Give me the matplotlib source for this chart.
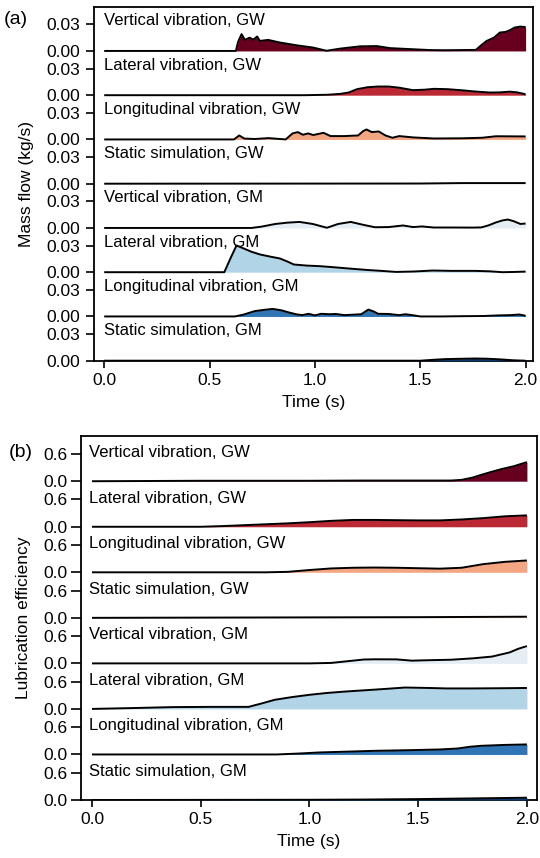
import matplotlib
matplotlib.use("Agg")
import matplotlib.pyplot as plt
import numpy as np

plt.rcParams["font.family"] = ["Liberation Sans", "DejaVu Sans"]
plt.rcParams["font.size"] = 12

# ---------------- data ----------------
row_names = [
    "Vertical vibration, GW", "Lateral vibration, GW", "Longitudinal vibration, GW",
    "Static simulation, GW", "Vertical vibration, GM", "Lateral vibration, GM",
    "Longitudinal vibration, GM", "Static simulation, GM",
]
row_colors = ["#67001f", "#bb2a34", "#f4a582", "#fbe0d0",
              "#e5eef4", "#b2d4e7", "#2f74b3", "#0c3a6e"]

# (a) mass flow, kg/s
mf_t_vert_gw = [0, 0.625, 0.635, 0.652, 0.668, 0.69, 0.707, 0.726, 0.739, 0.778, 0.834, 0.913,
                0.992, 1.055, 1.119, 1.214, 1.293, 1.356, 1.467, 1.546, 1.61, 1.70, 1.764, 1.79,
                1.815, 1.85, 1.878, 1.905, 1.925, 1.949, 1.975, 2.0]
mf_vert_gw = [0, 0, 0.010, 0.019, 0.0125, 0.015, 0.0128, 0.0163, 0.0113, 0.0125, 0.0095, 0.0064,
              0.0038, 0.0002, 0.0026, 0.0052, 0.0055, 0.0032, 0.0019, 0.001, 0.0008, 0.001, 0.0012,
              0.0065, 0.0113, 0.015, 0.0208, 0.0215, 0.0234, 0.0265, 0.0275, 0.027]
mf_t_lat_gw = [0, 0.95, 1.06, 1.12, 1.16, 1.2, 1.25, 1.3, 1.35, 1.4, 1.465, 1.52, 1.565, 1.63,
               1.7, 1.76, 1.83, 1.88, 1.925, 1.96, 2.0]
mf_lat_gw = [0, 0, 0.0005, 0.0015, 0.003, 0.0068, 0.009, 0.0098, 0.0098, 0.0085, 0.0057, 0.0062,
             0.0072, 0.0068, 0.0055, 0.0042, 0.003, 0.0032, 0.004, 0.0032, 0.001]
mf_t_lon_gw = [0, 0.616, 0.641, 0.665, 0.714, 0.78, 0.861, 0.894, 0.919, 0.943, 0.968, 0.992,
               1.041, 1.074, 1.14, 1.205, 1.229, 1.245, 1.27, 1.303, 1.335, 1.368, 1.40, 1.466,
               1.564, 1.70, 1.793, 1.859, 1.93, 2.0]
mf_lon_gw = [0, 0, 0.0045, 0.001, 0.0005, 0.0015, 0, 0.0068, 0.0083, 0.0053, 0.0068, 0.005,
             0.0075, 0.0038, 0.0038, 0.0045, 0.0094, 0.0113, 0.0083, 0.009, 0.0045, 0.0019,
             0.0038, 0.0023, 0.0011, 0.0013, 0.0019, 0.0036, 0.0035, 0.0034]
mf_t_sta_gw = [0, 1.5, 1.7, 2.0]
mf_sta_gw = [0, 0.0002, 0.0007, 0.0007]
mf_t_vert_gm = [0, 0.70, 0.747, 0.812, 0.87, 0.927, 0.99, 1.057, 1.11, 1.17, 1.23, 1.285, 1.35,
                1.418, 1.466, 1.508, 1.564, 1.65, 1.75, 1.79, 1.825, 1.859, 1.89, 1.916, 1.945,
                1.975, 2.0]
mf_vert_gm = [0, 0, 0.0015, 0.0045, 0.006, 0.0068, 0.0045, 0.0002, 0.0045, 0.0068, 0.0035,
              0.0008, 0.001, 0.0028, 0.001, 0.0017, 0.0005, 0.0005, 0.0004, 0.0006, 0.003,
              0.0062, 0.0085, 0.0095, 0.0075, 0.0045, 0.005]
mf_t_lat_gm = [0, 0.57, 0.60, 0.628, 0.66, 0.70, 0.74, 0.79, 0.834, 0.87, 0.90, 0.96, 1.024,
               1.08, 1.18, 1.25, 1.31, 1.385, 1.47, 1.56, 1.65, 1.76, 1.83, 1.89, 1.95, 2.0]
mf_lat_gm = [0, 0, 0.016, 0.0302, 0.027, 0.023, 0.020, 0.0175, 0.0155, 0.012, 0.0087, 0.0075,
             0.0068, 0.0058, 0.0038, 0.0025, 0.0016, 0.0003, 0.0008, 0.0019, 0.0015, 0.0015,
             0.001, 0.0, 0.0003, 0.0007]
mf_t_lon_gm = [0, 0.62, 0.66, 0.714, 0.76, 0.80, 0.84, 0.877, 0.91, 0.94, 0.97, 1.0, 1.03,
               1.07, 1.10, 1.14, 1.18, 1.22, 1.254, 1.28, 1.30, 1.35, 1.40, 1.43, 1.47, 1.5,
               1.6, 1.7, 1.8, 1.87, 1.93, 1.97, 2.0]
mf_lon_gm = [0, 0, 0.002, 0.006, 0.0075, 0.0085, 0.007, 0.0045, 0.0025, 0.0015, 0.003, 0.0012,
             0.003, 0.0025, 0.0028, 0.0015, 0.002, 0.0025, 0.0078, 0.0055, 0.003, 0.0028,
             0.0015, 0.0025, 0.0012, 0.0, 0.0, 0.0003, 0.0005, 0.0012, 0.0015, 0.0022, 0.0008]
mf_t_sta_gm = [0, 1.50, 1.56, 1.62, 1.70, 1.76, 1.82, 1.88, 1.94, 2.0]
mf_sta_gm = [0, 0, 0.001, 0.0018, 0.0022, 0.0025, 0.0022, 0.0015, 0.0005, 0.0]

# (b) lubrication efficiency
le_t_vert_gw = [0, 0.25, 0.5, 0.75, 1.0, 1.25, 1.5, 1.65, 1.70, 1.75, 1.79, 1.84, 1.886, 1.94, 2.0]
le_vert_gw = [0, 0.005, 0.01, 0.01, 0.01, 0.015, 0.015, 0.015, 0.03, 0.08, 0.14, 0.21, 0.27, 0.33, 0.42]
le_t_lat_gw = [0, 0.5, 0.6, 0.7, 0.8, 0.9, 1.0, 1.1, 1.2, 1.3, 1.4, 1.5, 1.6, 1.7, 1.8, 1.9, 2.0]
le_lat_gw = [0, 0, 0.015, 0.035, 0.055, 0.075, 0.10, 0.13, 0.15, 0.15, 0.145, 0.14, 0.14, 0.16,
             0.19, 0.23, 0.25]
le_t_lon_gw = [0, 0.8, 0.9, 1.0, 1.1, 1.2, 1.3, 1.4, 1.5, 1.6, 1.7, 1.8, 1.9, 2.0]
le_lon_gw = [0, 0, 0.01, 0.05, 0.085, 0.10, 0.105, 0.10, 0.09, 0.08, 0.10, 0.18, 0.23, 0.26]
le_t_sta_gw = [0, 0.5, 1.0, 1.5, 2.0]
le_sta_gw = [0, 0.005, 0.01, 0.015, 0.025]
le_t_vert_gm = [0, 1.0, 1.1, 1.2, 1.25, 1.3, 1.4, 1.47, 1.55, 1.65, 1.75, 1.84, 1.92, 1.96, 2.0]
le_vert_gm = [0, 0, 0.01, 0.06, 0.085, 0.09, 0.088, 0.06, 0.07, 0.08, 0.11, 0.15, 0.24, 0.32, 0.38]
le_t_lat_gm = [0, 0.2, 0.37, 0.55, 0.72, 0.78, 0.84, 0.92, 1.0, 1.08, 1.16, 1.24, 1.32, 1.44,
               1.55, 1.63, 1.75, 1.9, 2.0]
le_lat_gm = [0, 0.02, 0.04, 0.045, 0.045, 0.12, 0.20, 0.26, 0.31, 0.35, 0.38, 0.405, 0.43, 0.47,
             0.46, 0.45, 0.45, 0.455, 0.46]
le_t_lon_gm = [0, 0.85, 0.95, 1.05, 1.16, 1.3, 1.47, 1.6, 1.68, 1.74, 1.79, 1.9, 2.0]
le_lon_gm = [0, 0, 0.02, 0.045, 0.06, 0.08, 0.095, 0.11, 0.13, 0.17, 0.19, 0.21, 0.22]
le_t_sta_gm = [0, 1.0, 1.25, 1.5, 1.75, 2.0]
le_sta_gm = [0, 0.005, 0.01, 0.02, 0.035, 0.05]

x_ticks = [0.0, 0.5, 1.0, 1.5, 2.0]

mass_flow = [(mf_t_vert_gw, mf_vert_gw), (mf_t_lat_gw, mf_lat_gw), (mf_t_lon_gw, mf_lon_gw),
             (mf_t_sta_gw, mf_sta_gw), (mf_t_vert_gm, mf_vert_gm), (mf_t_lat_gm, mf_lat_gm),
             (mf_t_lon_gm, mf_lon_gm), (mf_t_sta_gm, mf_sta_gm)]
lubrication = [(le_t_vert_gw, le_vert_gw), (le_t_lat_gw, le_lat_gw), (le_t_lon_gw, le_lon_gw),
               (le_t_sta_gw, le_sta_gw), (le_t_vert_gm, le_vert_gm), (le_t_lat_gm, le_lat_gm),
               (le_t_lon_gm, le_lon_gm), (le_t_sta_gm, le_sta_gm)]


def ridge(ax, series, row_h, tick_val, tick_fmt, xlim, label_x, label_frac, ylabel,
          label_x_ax, tick_len, tick_pad):
    n = len(series)
    ticks, labels = [], []
    for i, ((t, v), name, col) in enumerate(zip(series, row_names, row_colors)):
        base = (n - 1 - i) * row_h
        t = np.asarray(t)
        y = base + np.asarray(v)
        ax.fill_between(t, base, y, color=col, lw=0, zorder=2 + i)
        ax.plot(t, y, color="black", lw=1.4, zorder=2.5 + i, solid_capstyle="butt")
        ax.text(label_x, base + label_frac * row_h, name, ha="left", va="baseline",
                fontsize=12, zorder=20)
        ticks += [base, base + tick_val]
        labels += [tick_fmt.format(0), tick_fmt.format(tick_val)]
    ax.set_yticks(ticks)
    ax.set_yticklabels(labels)
    ax.set_ylim(0, n * row_h)
    ax.set_xlim(*xlim)
    ax.set_xticks(x_ticks)
    ax.set_xticklabels([f"{x:.1f}" for x in x_ticks])
    ax.set_xlabel("Time (s)", fontsize=12.5, labelpad=5)
    ax.set_ylabel(ylabel, fontsize=12.5)
    ax.yaxis.set_label_coords(label_x_ax, 0.5)
    for s in ax.spines.values():
        s.set_linewidth(1.3)
    ax.tick_params(axis="y", length=tick_len, width=1.2, pad=tick_pad, labelsize=12.5)
    ax.tick_params(axis="x", length=5, width=1.2, pad=4, labelsize=12.5)


fig = plt.figure(figsize=(5.4, 8.58), dpi=100)

ax_a = fig.add_axes([0.1746, 0.5796, 0.8124, 0.4126])
ridge(ax_a, mass_flow, 0.05, 0.03, "{:.2f}", (-0.047, 2.035), 0.0, 0.58,
      "Mass flow (kg/s)", -0.137, 6, 4.5)

ax_b = fig.add_axes([0.1506, 0.0676, 0.8433, 0.4246])
ridge(ax_b, lubrication, 1.0, 0.6, "{:.1f}", (-0.049, 2.045), -0.012, 0.53,
      "Lubrication efficiency", -0.110, 7.5, 2.5)

fig.text(16 / 540, 1 - 19 / 858, "(a)", fontsize=14, ha="center", va="center")
fig.text(20.5 / 540, 1 - 452 / 858, "(b)", fontsize=14, ha="center", va="center")

fig.savefig("out.png", dpi=100)
